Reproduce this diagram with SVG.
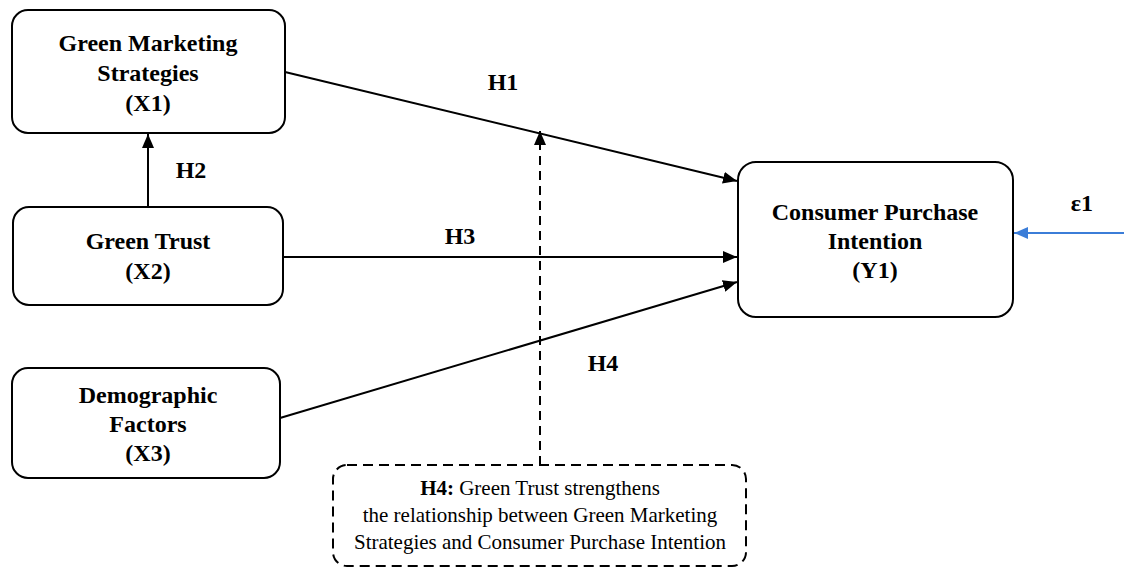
<svg xmlns="http://www.w3.org/2000/svg" width="1124" height="568" viewBox="0 0 1124 568">
<style>
.box{fill:#fff;stroke:#000;stroke-width:2}
.t{font-family:'Liberation Serif','DejaVu Serif',serif;font-weight:bold;font-size:24px;text-anchor:middle;fill:#000}
.n{font-family:'Liberation Serif','DejaVu Serif',serif;font-size:21px;text-anchor:middle;fill:#000}
.c{stroke:#000;stroke-width:2;fill:none}
</style>
<defs>
<marker id="ah" viewBox="0 0 14 12" refX="14" refY="6" markerWidth="14" markerHeight="12" markerUnits="userSpaceOnUse" orient="auto">
<path d="M0,0 L14,6 L0,12 Z" fill="#000"/>
</marker>
<marker id="ahb" viewBox="0 0 14 12" refX="14" refY="6" markerWidth="14" markerHeight="12" markerUnits="userSpaceOnUse" orient="auto">
<path d="M0,0 L14,6 L0,12 Z" fill="#3b7dd8"/>
</marker>
</defs>
<rect width="1124" height="568" fill="#fff"/>
<g id="connectors">
<line class="c" x1="148" y1="207" x2="148" y2="134" marker-end="url(#ah)"/>
<line class="c" x1="285" y1="72" x2="737" y2="181" marker-end="url(#ah)"/>
<line class="c" x1="283" y1="257" x2="737" y2="257" marker-end="url(#ah)"/>
<line class="c" x1="280" y1="418" x2="737" y2="282" marker-end="url(#ah)"/>
<line class="c" x1="540" y1="465" x2="540" y2="131" stroke-dasharray="9,6" marker-end="url(#ah)"/>
<line x1="1124" y1="233" x2="1014" y2="233" stroke="#3b7dd8" stroke-width="2" marker-end="url(#ahb)"/>
<text class="t" x="191" y="178">H2</text>
<text class="t" x="503" y="90">H1</text>
<text class="t" x="460" y="244">H3</text>
<text class="t" x="603" y="371">H4</text>
<text class="t" x="1082" y="211">ε1</text>
</g>
<g id="x1">
<rect class="box" x="12" y="10" width="273" height="123" rx="16"/>
<text class="t" x="148" y="51">Green Marketing</text>
<text class="t" x="148" y="81">Strategies</text>
<text class="t" x="148" y="111">(X1)</text>
</g>
<g id="x2">
<rect class="box" x="13" y="207" width="270" height="98" rx="16"/>
<text class="t" x="148" y="249">Green Trust</text>
<text class="t" x="148" y="279">(X2)</text>
</g>
<g id="x3">
<rect class="box" x="12" y="368" width="268" height="110" rx="16"/>
<text class="t" x="148" y="403">Demographic</text>
<text class="t" x="148" y="432">Factors</text>
<text class="t" x="148" y="461">(X3)</text>
</g>
<g id="y1">
<rect class="box" x="738" y="162" width="275" height="155" rx="18"/>
<text class="t" x="875" y="220">Consumer Purchase</text>
<text class="t" x="875" y="249">Intention</text>
<text class="t" x="875" y="278">(Y1)</text>
</g>
<g id="h4note">
<rect class="box" x="333" y="465" width="413" height="101" rx="14" stroke-dasharray="10,6"/>
<text class="n" x="540" y="495"><tspan font-weight="bold">H4:</tspan> Green Trust strengthens</text>
<text class="n" x="540" y="522">the relationship between Green Marketing</text>
<text class="n" x="540" y="549">Strategies and Consumer Purchase Intention</text>
</g>
</svg>
